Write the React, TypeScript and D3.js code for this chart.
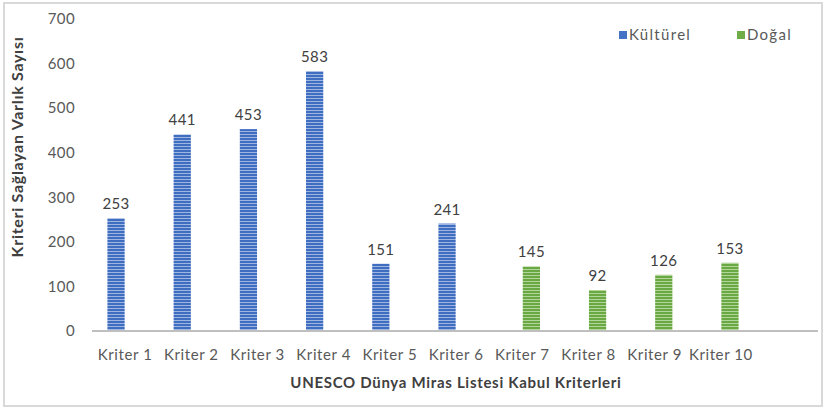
import React from "react";
import * as d3 from "d3";

const categories = ["Kriter 1","Kriter 2","Kriter 3","Kriter 4","Kriter 5","Kriter 6","Kriter 7","Kriter 8","Kriter 9","Kriter 10"];
const kulturel = [253, 441, 453, 583, 151, 241, null, null, null, null];
const dogal = [null, null, null, null, null, null, 145, 92, 126, 153];
const series = ["Kültürel", "Doğal"];
const yTicks = [0, 100, 200, 300, 400, 500, 600, 700];

const W = 826, H = 408;
const FONT = "Lato, 'Open Sans', sans-serif";

export default function App() {
  const x = d3.scaleBand<string>().domain(categories).range([92, 754]);
  const inner = d3.scaleBand<string>().domain(series).range([0, x.bandwidth()]).paddingInner(0.05).paddingOuter(0.85);
  const y = d3.scaleLinear().domain([0, 700]).range([331, 19]);
  const data = series.map((s, si) => ({ s, vals: si === 0 ? kulturel : dogal }));
  const fills = ["url(#pBlue)", "url(#pGreen)"];
  const solid = ["#4472C4", "#70AD47"];
  return (
    <svg width={W} height={H} style={{ position: "absolute", left: 0, top: 0 }} fontFamily={FONT}>
      <defs>
        <pattern id="pBlue" width={4} height={3} patternUnits="userSpaceOnUse">
          <rect width={4} height={3} fill="#3F6DBF" />
          <rect y={2} width={4} height={1} fill="#9DB5E0" />
        </pattern>
        <pattern id="pGreen" width={4} height={3} patternUnits="userSpaceOnUse">
          <rect width={4} height={3} fill="#6AA843" />
          <rect y={2} width={4} height={1} fill="#B2D59A" />
        </pattern>
      </defs>
      <rect x={0} y={0} width={W} height={H} fill="#fff" />
      <rect x={4} y={3} width={818} height={403} fill="none" stroke="#d9d9d9" strokeWidth={2} />
      {yTicks.map(t => (
        <text key={t} x={75} y={y(t)} dy="0.35em" textAnchor="end" fontSize={15} letterSpacing={0.4} fill="#595959">{t}</text>
      ))}
      {data.map((d, si) => d.vals.map((v, i) => v == null ? null : (
        <g key={si + "-" + i}>
          <rect x={(x(categories[i]) as number) + (inner(d.s) as number)} y={y(v)} width={inner.bandwidth()} height={y(0) - y(v)} fill={fills[si]} />
          <text x={(x(categories[i]) as number) + (inner(d.s) as number) + inner.bandwidth() / 2} y={y(v) - 9} textAnchor="middle" fontSize={15} letterSpacing={0.4} fill="#404040">{v}</text>
        </g>
      )))}
      <line x1={92} x2={818} y1={y(0)} y2={y(0)} stroke="#bfbfbf" strokeWidth={2} />
      {categories.map(c => (
        <text key={c} x={(x(c) as number) + x.bandwidth() / 2} y={360} textAnchor="middle" fontSize={15} letterSpacing={0.6} fill="#595959">{c}</text>
      ))}
      <text x={456} y={388} textAnchor="middle" fontSize={15} fontWeight="bold" letterSpacing={0.7} fill="#404040">UNESCO Dünya Miras Listesi Kabul Kriterleri</text>
      <text transform="translate(23,147) rotate(-90)" textAnchor="middle" fontSize={16} fontWeight="bold" letterSpacing={0.7} fill="#404040">Kriteri Sağlayan Varlık Sayısı</text>
      {series.map((s, si) => (
        <g key={s} transform={`translate(${si === 0 ? 619 : 737},35)`}>
          <rect x={0} y={-4} width={8} height={8} fill={solid[si]} />
          <text x={10} y={0} dy="0.35em" fontSize={15} letterSpacing={1.3} fill="#595959">{s}</text>
        </g>
      ))}
    </svg>
  );
}
